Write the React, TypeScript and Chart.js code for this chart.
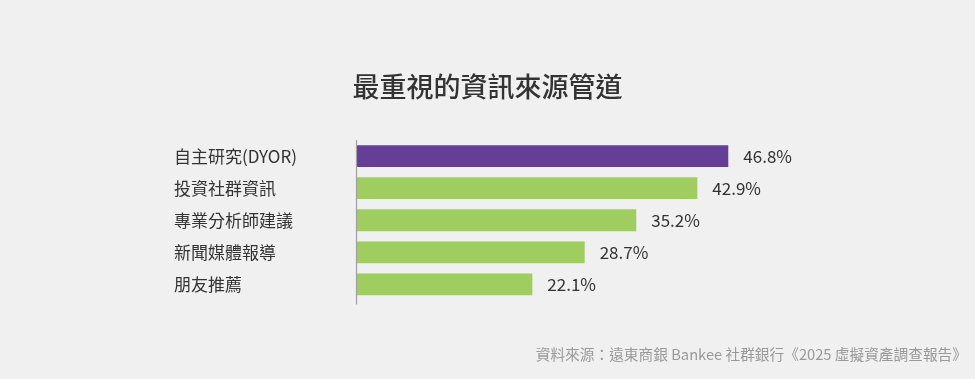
import React, { useEffect, useRef } from "react";
import { Chart, registerables } from "chart.js";

Chart.register(...registerables);

const categories = ["自主研究(DYOR)", "投資社群資訊", "專業分析師建議", "新聞媒體報導", "朋友推薦"];
const values = [46.8, 42.9, 35.2, 28.7, 22.1];
const barColors = ["#653f95", "#a0cd60", "#a0cd60", "#a0cd60", "#a0cd60"];
const titleText = "最重視的資訊來源管道";
const sourceText = "資料來源：遠東商銀 Bankee 社群銀行《2025 虛擬資產調查報告》";

const FONT = "'Noto Sans CJK TC', 'Noto Sans', sans-serif";

export default function App() {
  const ref = useRef<HTMLCanvasElement | null>(null);

  useEffect(() => {
    if (!ref.current) return;
    const textPlugin = {
      id: "texts",
      afterDatasetsDraw(chart: any) {
        const ctx = chart.ctx;
        const meta = chart.getDatasetMeta(0);
        const area = chart.chartArea;
        ctx.save();
        ctx.strokeStyle = "#a0a0a0";
        ctx.lineWidth = 1.2;
        ctx.beginPath();
        ctx.moveTo(area.left - 0.5, area.top);
        ctx.lineTo(area.left - 0.5, area.bottom + 4);
        ctx.stroke();
        ctx.fillStyle = "#333333";
        ctx.font = `17px ${FONT}`;
        ctx.textAlign = "left";
        ctx.textBaseline = "middle";
        meta.data.forEach((bar: any, i: number) => {
          ctx.fillText(values[i].toFixed(1) + "%", bar.x + 15, bar.y);
        });
        ctx.restore();
      },
      afterDraw(chart: any) {
        const ctx = chart.ctx;
        ctx.save();
        ctx.fillStyle = "#333333";
        ctx.font = `500 27px 'Noto Sans CJK TC Medium', ${FONT}`;
        ctx.textAlign = "center";
        ctx.textBaseline = "middle";
        ctx.fillText(titleText, chart.width / 2, 87);
        ctx.fillStyle = "#999999";
        ctx.font = `14.7px ${FONT}`;
        ctx.textAlign = "right";
        ctx.fillText(sourceText, chart.width - 8, 354);
        ctx.restore();
      },
    };
    const chart = new Chart(ref.current, {
      type: "bar",
      data: {
        labels: categories,
        datasets: [
          {
            data: values,
            backgroundColor: barColors,
            barPercentage: 0.68,
            categoryPercentage: 1,
          },
        ],
      },
      options: {
        indexAxis: "y",
        animation: false,
        responsive: false,
        maintainAspectRatio: false,
        layout: { padding: { left: 174, right: 142, top: 140, bottom: 78.5 } },
        plugins: { legend: { display: false }, tooltip: { enabled: false }, title: { display: false } },
        scales: {
          x: { display: false, min: 0, max: 60 },
          y: {
            afterFit: (s: any) => {
              s.width = 183;
            },
            grid: { display: false },
            border: { display: false },
            ticks: {
              crossAlign: "far",
              color: "#333333",
              font: { family: FONT, size: 17 },
            },
          },
        },
      },
      plugins: [textPlugin],
    });
    return () => chart.destroy();
  }, []);

  return (
    <div style={{ position: "fixed", left: 0, top: 0, width: 975, height: 379, background: "#eff0ef" }}>
      <canvas ref={ref} width={975} height={379} style={{ display: "block" }} />
    </div>
  );
}
